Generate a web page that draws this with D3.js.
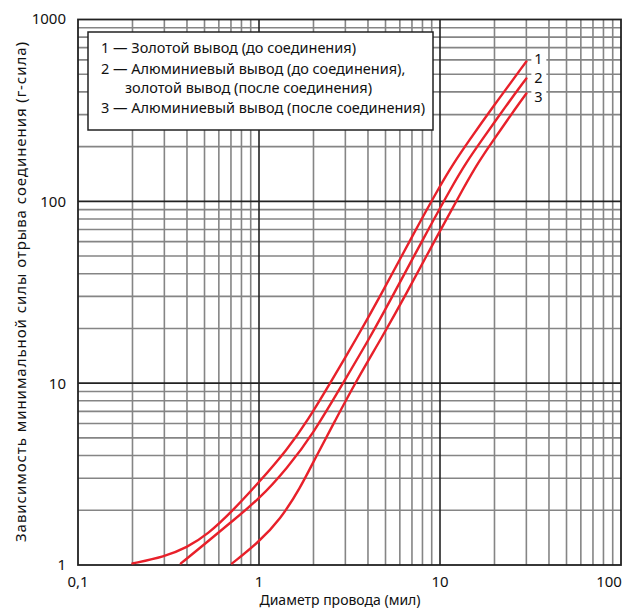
<!DOCTYPE html>
<html><head><meta charset="utf-8">
<script src="https://cdn.jsdelivr.net/npm/d3@7"></script>
<style>body{margin:0;background:#fff}svg{display:block}text{font-family:"Noto Sans",sans-serif}</style>
</head><body><svg id="c" width="632" height="608"></svg>
<script>
const curve1 = [[0.2,1.02],[0.3,1.11],[0.4,1.25],[0.52,1.47],[0.72,2.0],[1.0,2.85],[1.43,4.3],[1.87,6.3],[2.47,10],[3.5,18],[4.67,30],[7,64],[10,122],[12,164],[14,206],[20,340],[30,588]];
const curve2 = [[0.37,1.02],[0.5,1.3],[0.7,1.72],[1.0,2.3],[1.43,3.4],[2.0,5.3],[2.91,10],[4.13,18],[5.46,30],[8.2,64],[11.7,122],[14.0,164],[16.4,206],[23.4,340],[30,474]];
const curve3 = [[0.71,1.02],[1.0,1.34],[1.31,1.78],[1.69,2.65],[2.04,3.85],[2.63,6.2],[3.39,10],[4.8,18],[6.4,30],[9.6,64],[13.7,122],[16.3,164],[19,206],[26.8,336],[30,392]];
const curveNames = ["1","2","3"];
const xTickLabels = ["0,1","1","10","100"];
const yTickLabels = ["1","10","100","1000"];
const legendLines = ["1 — Золотой вывод (до соединения)","2 — Алюминиевый вывод (до соединения),","золотой вывод (после соединения)","3 — Алюминиевый вывод (после соединения)"];
const xTitle = "Диаметр провода (мил)";
const yTitle = "Зависимость минимальной силы отрыва соединения (г-сила)";

const svg = d3.select("#c");
const L=78, R=621, T=19.5, B=565;
const x = d3.scaleLog().domain([0.1,100]).range([L,R]);
const y = d3.scaleLog().domain([1,1000]).range([B,T]);

const minor = [];
[0.1,1,10].forEach(d=>{for(let k=2;k<=9;k++) minor.push(d*k);});
const minorY = [];
[1,10,100].forEach(d=>{for(let k=2;k<=9;k++) minorY.push(d*k);});
const g = svg.append("g");
g.selectAll(".vx").data(minor).join("line").attr("x1",d=>x(d)).attr("x2",d=>x(d)).attr("y1",T).attr("y2",B).attr("stroke","#858585").attr("stroke-width",1.6);
g.selectAll(".hy").data(minorY).join("line").attr("y1",d=>y(d)).attr("y2",d=>y(d)).attr("x1",L).attr("x2",R).attr("stroke","#858585").attr("stroke-width",1.6);
g.selectAll(".mx").data([1,10]).join("line").attr("x1",d=>x(d)).attr("x2",d=>x(d)).attr("y1",T).attr("y2",B).attr("stroke","#222").attr("stroke-width",1.6);
g.selectAll(".my").data([10,100]).join("line").attr("y1",d=>y(d)).attr("y2",d=>y(d)).attr("x1",L).attr("x2",R).attr("stroke","#222").attr("stroke-width",1.6);
svg.append("rect").attr("x",L).attr("y",T).attr("width",R-L).attr("height",B-T).attr("fill","none").attr("stroke","#222").attr("stroke-width",1.8);

// curves
const line = d3.line().x(d=>x(d[0])).y(d=>y(d[1])).curve(d3.curveBasis);
[curve1,curve2,curve3].forEach(c=>{
  svg.append("path").attr("d",line(c)).attr("fill","none").attr("stroke","#e8202a").attr("stroke-width",2.4).attr("stroke-linecap","round");
});
// curve labels
[curve1,curve2,curve3].forEach((c,i)=>{
  const e=c[c.length-1];
  const lx=x(e[0])+8, ly=[59,78,97][i];
  svg.append("rect").attr("x",lx-3).attr("y",ly-8).attr("width",15).attr("height",16).attr("fill","#fff");
  svg.append("text").attr("x",lx).attr("y",ly).attr("dy","0.36em").attr("font-size",14.5).attr("fill","#111").text(curveNames[i]);
});

// legend
svg.append("rect").attr("x",88).attr("y",32).attr("width",345).attr("height",98).attr("fill","#fff").attr("stroke","#222").attr("stroke-width",1.5);
legendLines.forEach((t,i)=>{
  svg.append("text").attr("x",i===2?125:101).attr("y",[48,68.5,88,107.5][i]).attr("dy","0.36em").attr("font-size",14.5).attr("fill","#111").text(t);
});

// tick labels
[0.1,1,10,100].forEach((v,i)=>{
  svg.append("text").attr("x",i===3?Math.min(x(v),609):x(v)).attr("y",582).attr("dy","0.36em").attr("text-anchor","middle").attr("font-size",15).attr("fill","#111").text(xTickLabels[i]);
});
[1,10,100,1000].forEach((v,i)=>{
  svg.append("text").attr("x",66).attr("y",i===3?y(v)-1:y(v)).attr("dy","0.36em").attr("text-anchor","end").attr("font-size",15).attr("fill","#111").text(yTickLabels[i]);
});
svg.append("text").attr("x",340).attr("y",600).attr("dy","0.36em").attr("text-anchor","middle").attr("font-size",14).attr("fill","#111").text(xTitle);
svg.append("text").attr("transform","translate(21,292) rotate(-90)").attr("dy","0.36em").attr("text-anchor","middle").attr("font-size",15).attr("textLength",500).attr("lengthAdjust","spacing").attr("fill","#111").text(yTitle);
</script></body></html>
